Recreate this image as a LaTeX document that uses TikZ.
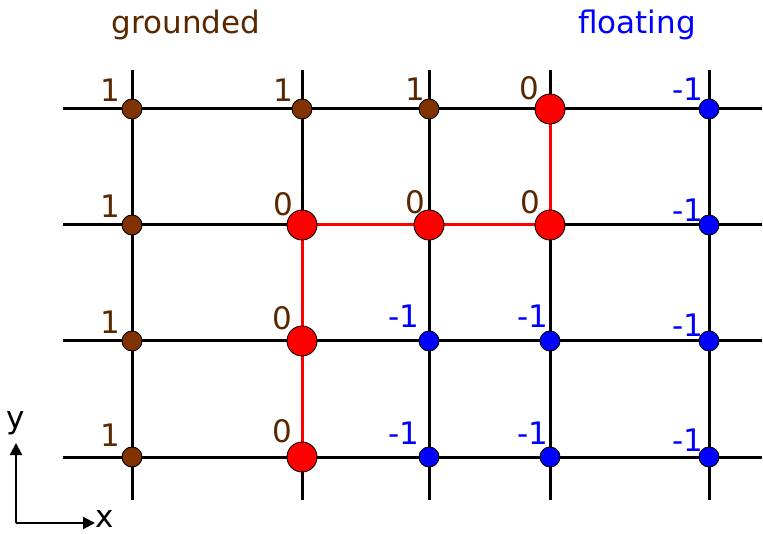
\documentclass[tikz,border=0pt]{standalone}
\usepackage{fontspec}
\setmainfont{DejaVu Sans}
\usetikzlibrary{arrows.meta}
\definecolor{gbrown}{HTML}{803300}
\definecolor{tbrown}{HTML}{5A2800}
\definecolor{fblue}{HTML}{0000FF}
\definecolor{zred}{HTML}{FF0000}
\begin{document}
\begin{tikzpicture}[x=1pt,y=-1pt,
  gridline/.style={line width=3pt,black},
  redline/.style={line width=3pt,zred},
  gnode/.style={circle,draw=black,line width=0.9pt,fill=gbrown,minimum size=20pt,inner sep=0pt},
  fnode/.style={circle,draw=black,line width=0.9pt,fill=fblue,minimum size=20pt,inner sep=0pt},
  znode/.style={circle,draw=black,line width=0.9pt,fill=zred,minimum size=30pt,inner sep=0pt},
  lbl/.style={font=\fontsize{31}{36}\selectfont,inner sep=0pt},
  glbl/.style={lbl,text=tbrown},
  flbl/.style={lbl,text=fblue}]
\useasboundingbox (0,0) rectangle (763,534);
% grid lines
\foreach \x in {132,302,429,550,709} {
  \draw[gridline] (\x,70) -- (\x,500);
}
\foreach \y in {109,225,341,457} {
  \draw[gridline] (63,\y) -- (762,\y);
}
% red path
\coordinate (r0) at (302,457);
\coordinate (r1) at (302,225);
\coordinate (r2) at (550,225);
\coordinate (r3) at (550,109);
\draw[redline] (r0) -- (r1) -- (r2) -- (r3);
% nodes row 0
\node[gnode] (a00) at (132,109) {};
\node[gnode] (a01) at (302,109) {};
\node[gnode] (a02) at (429,109) {};
\node[znode] (a03) at (550,109) {};
\node[fnode] (a04) at (709,109) {};
% row 1
\node[gnode] (a10) at (132,225) {};
\node[znode] (a11) at (302,225) {};
\node[znode] (a12) at (429,225) {};
\node[znode] (a13) at (550,225) {};
\node[fnode] (a14) at (709,225) {};
% row 2
\node[gnode] (a20) at (132,341) {};
\node[znode] (a21) at (302,341) {};
\node[fnode] (a22) at (429,341) {};
\node[fnode] (a23) at (550,341) {};
\node[fnode] (a24) at (709,341) {};
% row 3
\node[gnode] (a30) at (132,457) {};
\node[znode] (a31) at (302,457) {};
\node[fnode] (a32) at (429,457) {};
\node[fnode] (a33) at (550,457) {};
\node[fnode] (a34) at (709,457) {};
% labels
\node[glbl] (l00) at (110,90) {1};
\node[glbl] (l01) at (283,90) {1};
\node[glbl] (l02) at (415,89) {1};
\node[glbl] (l03) at (529,88) {0};
\node[flbl] (l04) at (688,89) {-1};
\node[glbl] (l10) at (110,206) {1};
\node[glbl] (l11) at (283,204) {0};
\node[glbl] (l12) at (415,202) {0};
\node[glbl] (l13) at (530,202) {0};
\node[flbl] (l14) at (688,210) {-1};
\node[glbl] (l20) at (110,322) {1};
\node[glbl] (l21) at (282,318) {0};
\node[flbl] (l22) at (404,316) {-1};
\node[flbl] (l23) at (533,316) {-1};
\node[flbl] (l24) at (688,325) {-1};
\node[glbl] (l30) at (110,435) {1};
\node[glbl] (l31) at (282,431) {0};
\node[flbl] (l32) at (404,433) {-1};
\node[flbl] (l33) at (533,433) {-1};
\node[flbl] (l34) at (688,440) {-1};
% titles
\node[glbl] (tg) at (186,25) {grounded};
\node[flbl] (tf) at (637,25) {floating};
% axes
\coordinate (o) at (16,523);
\coordinate (ye) at (16,443);
\coordinate (xe) at (95,523);
\draw[line width=2.2pt,-{Triangle[length=12pt,width=12pt]}] (o) -- (ye);
\draw[line width=2.2pt,-{Triangle[length=12pt,width=12pt]}] (o) -- (xe);
\node[lbl] (ylab) at (16,423) {y};
\node[lbl] (xlab) at (105,519) {x};
\end{tikzpicture}
\end{document}
